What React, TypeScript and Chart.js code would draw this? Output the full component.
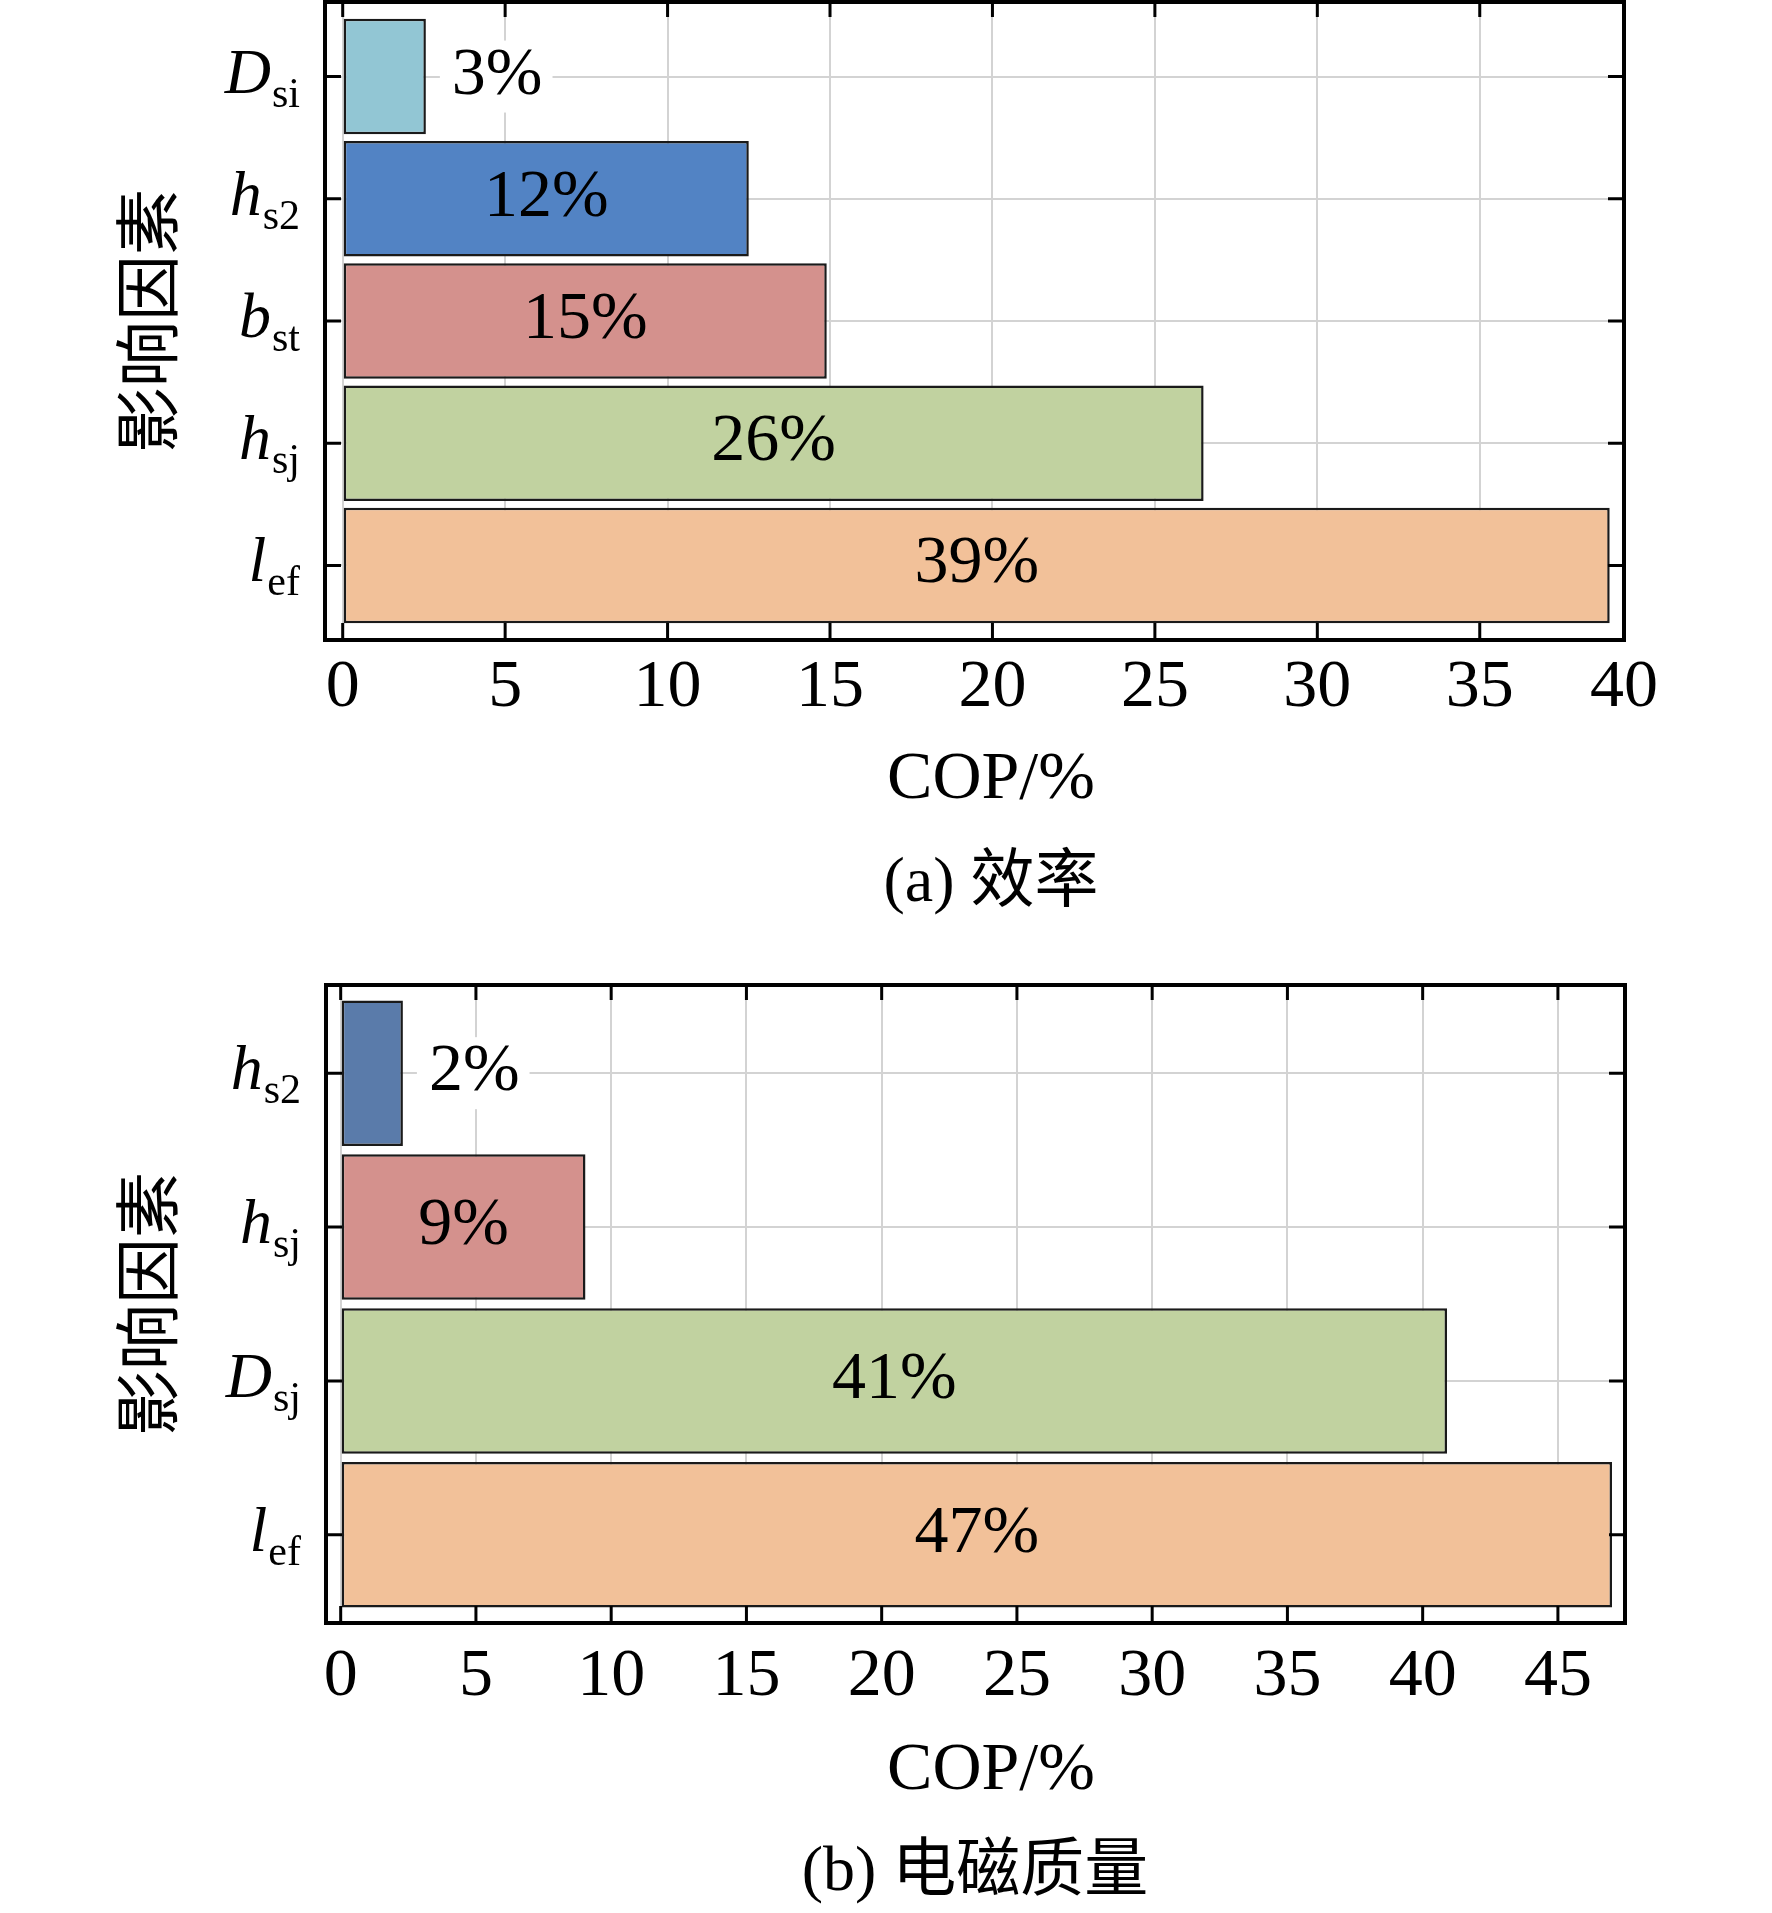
import React, { useEffect, useRef } from "react";
import { Chart, registerables } from "chart.js";

Chart.register(...registerables);

// ---------- Panel (a) 效率 ----------
const categoryMainA = ["D", "h", "b", "h", "l"];
const categorySubA = ["si", "s2", "st", "sj", "ef"];
const valuesA = [2.56, 12.5, 14.9, 26.5, 39.0];
const valueLabelsA = ["3%", "12%", "15%", "26%", "39%"];
const colorsA = ["#92C6D4", "#5283C4", "#D4918D", "#C1D2A0", "#F2C199"];
const xTicksA = [0, 5, 10, 15, 20, 25, 30, 35, 40];

// ---------- Panel (b) 电磁质量 ----------
const categoryMainB = ["h", "h", "D", "l"];
const categorySubB = ["s2", "sj", "sj", "ef"];
const valuesB = [2.3, 9.05, 40.9, 47.0];
const valueLabelsB = ["2%", "9%", "41%", "47%"];
const colorsB = ["#5A7BAA", "#D4918D", "#C1D2A0", "#F2C199"];
const xTicksB = [0, 5, 10, 15, 20, 25, 30, 35, 40, 45];

const axisTitle = "COP/%";
const yAxisTitle = "影响因素";

const SERIF = '"Liberation Serif", "Times New Roman", "Noto Sans CJK SC", serif';
const CJK = '"Noto Sans CJK SC", "Liberation Serif", sans-serif';

type PanelDef = {
  main: string[];
  sub: string[];
  values: number[];
  valueLabels: string[];
  colors: string[];
  xTicks: number[];
  caption: string;
  xMin: number;
  xMax: number;
  yMin: number;
  yMax: number;
  padding: { left: number; right: number; top: number; bottom: number };
  tickDy: number;
  titleDy: number;
  captionDy: number;
  captionX: number;
  titleX: number;
  yTitleX: number;
  top: number;
  height: number;
};

const panels: PanelDef[] = [
  {
    main: categoryMainA,
    sub: categorySubA,
    values: valuesA,
    valueLabels: valueLabelsA,
    colors: colorsA,
    xTicks: xTicksA,
    caption: "(a) 效率",
    xMin: -0.545,
    xMax: 39.44,
    yMin: -0.61,
    yMax: 4.61,
    padding: { left: 325, right: 148, top: 2, bottom: 316 },
    tickDy: 66,
    titleDy: 158,
    captionDy: 261,
    captionX: 991,
    titleX: 991,
    yTitleX: 147,
    top: 0,
    height: 956,
  },
  {
    main: categoryMainB,
    sub: categorySubB,
    values: valuesB,
    valueLabels: valueLabelsB,
    colors: colorsB,
    xTicks: xTicksB,
    caption: "(b) 电磁质量",
    xMin: -0.543,
    xMax: 47.48,
    yMin: -0.573,
    yMax: 3.573,
    padding: { left: 326, right: 147, top: 29, bottom: 290 },
    tickDy: 72,
    titleDy: 166,
    captionDy: 267,
    captionX: 975,
    titleX: 991,
    yTitleX: 147,
    top: 956,
    height: 957,
  },
];

const decorPlugin = {
  id: "decor",
  afterDatasetsDraw(chart: any, _args: any, opts: any) {
    const p: PanelDef = opts.panel;
    const { ctx, chartArea: a } = chart;
    const xs = chart.scales.x;
    const ys = chart.scales.y;
    ctx.save();

    // value labels
    const meta = chart.getDatasetMeta(0);
    ctx.font = `68px ${SERIF}`;
    ctx.textBaseline = "alphabetic";
    meta.data.forEach((bar: any, i: number) => {
      const pr = bar.getProps(["x", "y", "base"], true);
      const text = p.valueLabels[i];
      const w = ctx.measureText(text).width;
      const barW = Math.abs(pr.x - pr.base);
      const baseline = pr.y + 17;
      if (w + 30 < barW) {
        ctx.fillStyle = "#000";
        ctx.textAlign = "center";
        ctx.fillText(text, (pr.x + pr.base) / 2, baseline);
      } else {
        const left = pr.x + 26;
        ctx.fillStyle = "#fff";
        ctx.fillRect(left - 12, pr.y - 36, w + 22, 72);
        ctx.fillStyle = "#000";
        ctx.textAlign = "left";
        ctx.fillText(text, left, baseline);
      }
    });

    // frame
    ctx.strokeStyle = "#000";
    ctx.lineWidth = 4;
    ctx.strokeRect(a.left, a.top, a.right - a.left, a.bottom - a.top);

    // inward ticks
    ctx.lineWidth = 3;
    ctx.beginPath();
    p.xTicks.forEach((v) => {
      if (v < xs.min || v > xs.max) return;
      const px = xs.getPixelForValue(v);
      ctx.moveTo(px, a.bottom);
      ctx.lineTo(px, a.bottom - 17);
      ctx.moveTo(px, a.top);
      ctx.lineTo(px, a.top + 15);
    });
    p.main.forEach((_m, i) => {
      const py = ys.getPixelForValue(i);
      ctx.moveTo(a.left, py);
      ctx.lineTo(a.left + 16, py);
      ctx.moveTo(a.right, py);
      ctx.lineTo(a.right - 16, py);
    });
    ctx.stroke();
    ctx.restore();
  },
  afterDraw(chart: any, _args: any, opts: any) {
    const p: PanelDef = opts.panel;
    const { ctx, chartArea: a } = chart;
    const xs = chart.scales.x;
    const ys = chart.scales.y;
    ctx.save();
    ctx.fillStyle = "#000";

    // x tick labels
    ctx.font = `68px ${SERIF}`;
    ctx.textAlign = "center";
    ctx.textBaseline = "alphabetic";
    p.xTicks.forEach((v) => {
      const px = Math.min(xs.getPixelForValue(v), a.right);
      ctx.fillText(String(v), px, a.bottom + p.tickDy);
    });

    // y tick labels (italic symbol + subscript)
    p.main.forEach((m, i) => {
      const py = ys.getPixelForValue(i);
      const right = a.left - 25;
      ctx.font = `42px ${SERIF}`;
      ctx.textAlign = "right";
      const sw = ctx.measureText(p.sub[i]).width;
      ctx.fillText(p.sub[i], right, py + 30);
      ctx.font = `italic 64px ${SERIF}`;
      ctx.fillText(m, right - sw - 1, py + 16);
    });

    // x axis title
    ctx.font = `68px ${SERIF}`;
    ctx.textAlign = "center";
    ctx.fillText(axisTitle, p.titleX, a.bottom + p.titleDy);

    // caption
    ctx.font = `64px ${SERIF}`;
    ctx.fillText(p.caption, p.captionX, a.bottom + p.captionDy);

    // y axis title
    ctx.translate(p.yTitleX, (a.top + a.bottom) / 2);
    ctx.rotate(-Math.PI / 2);
    ctx.font = `66px ${CJK}`;
    ctx.textAlign = "center";
    ctx.textBaseline = "middle";
    ctx.fillText(yAxisTitle, 0, 0);
    ctx.restore();
  },
};

function Panel({ p }: { p: PanelDef }) {
  const ref = useRef<HTMLCanvasElement | null>(null);
  useEffect(() => {
    if (!ref.current) return;
    const chart = new Chart(ref.current, {
      type: "bar",
      data: {
        labels: p.main.map((m, i) => `${m}${p.sub[i]}`),
        datasets: [
          {
            data: p.values.map((v, i) => ({ x: v, y: i })) as any,
            backgroundColor: p.colors,
            borderColor: "#1a1a1a",
            borderWidth: 2.5,
            borderSkipped: false,
            categoryPercentage: 1,
            barPercentage: 0.945,
          },
        ],
      },
      options: {
        indexAxis: "y",
        responsive: false,
        animation: false,
        events: [],
        layout: { padding: p.padding },
        plugins: {
          legend: { display: false },
          tooltip: { enabled: false },
          decor: { panel: p },
        } as any,
        scales: {
          x: {
            type: "linear",
            min: p.xMin,
            max: p.xMax,
            offset: false,
            afterBuildTicks: (scale: any) => {
              scale.ticks = p.xTicks
                .filter((v) => v >= scale.min && v <= scale.max)
                .map((v) => ({ value: v }));
            },
            ticks: { display: false },
            grid: { color: "#d3d3d3", lineWidth: 2, drawTicks: false, offset: false },
            border: { display: false },
          },
          y: {
            type: "linear",
            reverse: true,
            min: p.yMin,
            max: p.yMax,
            offset: false,
            afterBuildTicks: (scale: any) => {
              scale.ticks = p.main.map((_m, i) => ({ value: i }));
            },
            ticks: { display: false },
            grid: { color: "#d3d3d3", lineWidth: 2, drawTicks: false, offset: false },
            border: { display: false },
          },
        },
      },
      plugins: [decorPlugin],
    });
    return () => chart.destroy();
  }, [p]);
  return (
    <canvas
      ref={ref}
      width={1772}
      height={p.height}
      style={{ position: "absolute", left: 0, top: p.top, width: 1772, height: p.height, display: "block" }}
    />
  );
}

export default function App() {
  return (
    <div style={{ position: "absolute", left: 0, top: 0, width: 1772, height: 1913, background: "#fff", overflow: "hidden" }}>
      {panels.map((p, i) => (
        <Panel key={i} p={p} />
      ))}
    </div>
  );
}
